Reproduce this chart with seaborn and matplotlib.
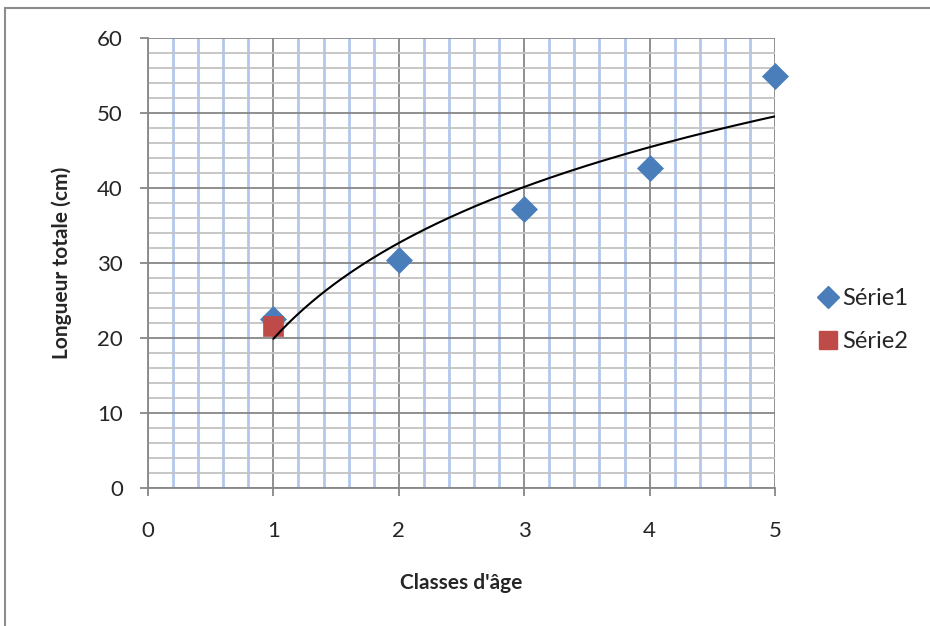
import numpy as np
import pandas as pd
import matplotlib
matplotlib.use("Agg")
import matplotlib.pyplot as plt
from matplotlib.ticker import MultipleLocator
from matplotlib.lines import Line2D
import seaborn as sns

# ── Data ─────────────────────────────────────────────────
age_classes = [1, 2, 3, 4, 5]
serie1_length = [22.5, 30.4, 37.2, 42.7, 54.9]
serie2_age = [1]
serie2_length = [21.6]

x_ticks = [0, 1, 2, 3, 4, 5]
y_ticks = [0, 10, 20, 30, 40, 50, 60]

# log trendline fitted on Série1 (Excel style)
a, b = np.polyfit(np.log(age_classes), serie1_length, 1)
trend_x = np.linspace(1, 5, 200)
trend = pd.DataFrame({"x": trend_x, "y": a * np.log(trend_x) + b})

s1 = pd.DataFrame({"age": age_classes, "len": serie1_length})
s2 = pd.DataFrame({"age": serie2_age, "len": serie2_length})

sns.set_theme(style="white")
plt.rcParams["font.family"] = ["Lato", "DejaVu Sans"]

fig = plt.figure(figsize=(9.3, 6.26), dpi=100)
ax = fig.add_axes([148 / 930, 1 - 488 / 626, (775 - 148) / 930, (488 - 38) / 626])

blue = "#4a7ebb"
red = "#be4b48"

sns.scatterplot(data=s1, x="age", y="len", marker="D", s=175, color=blue,
                edgecolor=blue, linewidth=0.5, ax=ax, zorder=3, clip_on=False)
sns.scatterplot(data=s2, x="age", y="len", marker="s", s=210, color=red,
                edgecolor=red, linewidth=0.5, ax=ax, zorder=4, clip_on=False)
sns.lineplot(data=trend, x="x", y="y", color="black", linewidth=1.5, ax=ax, zorder=5)

ax.set_xlim(0, 5)
ax.set_ylim(0, 60)
ax.set_xticks(x_ticks)
ax.set_yticks(y_ticks)
ax.xaxis.set_minor_locator(MultipleLocator(0.2))
ax.yaxis.set_minor_locator(MultipleLocator(2))

ax.grid(which="major", color="#878787", linewidth=1.3, zorder=1)
ax.grid(which="minor", axis="y", color="#c3c3c3", linewidth=1.3, zorder=0)
ax.grid(which="minor", axis="x", color="#b3c7ec", linewidth=2.0, zorder=0)
ax.set_axisbelow(True)

for side in ["top", "right"]:
    ax.spines[side].set_visible(False)
for side in ["left", "bottom"]:
    ax.spines[side].set_color("#878787")
    ax.spines[side].set_linewidth(1.3)

ax.tick_params(which="major", direction="out", length=6, width=1.3, color="#878787",
               labelsize=16, bottom=True, left=True)
ax.tick_params(axis="x", pad=18)
ax.tick_params(axis="y", pad=12)
ax.tick_params(which="minor", length=0)

ax.set_xlabel("Classes d'âge", fontsize=15, fontweight="bold", va="center")
ax.set_ylabel("Longueur totale (cm)", fontsize=15, fontweight="bold", va="center")
ax.xaxis.set_label_coords(0.5, -0.211)
ax.yaxis.set_label_coords(-0.137, 0.5)

handles = [
    Line2D([], [], marker="D", linestyle="none", color=blue, markersize=11, label="Série1"),
    Line2D([], [], marker="s", linestyle="none", color=red, markersize=13, label="Série2"),
]
fig.legend(handles=handles, loc="center left", bbox_to_anchor=(814 / 930, 1 - 320 / 626),
           frameon=False, fontsize=17, handletextpad=0.0, labelspacing=0.95,
           handlelength=1.2, borderaxespad=0, borderpad=0)

# chart frame (cut off on the right and bottom)
fig.add_artist(Line2D([5 / 930, 5 / 930], [0, 1 - 8 / 626], color="#8c8c8c", linewidth=1.5))
fig.add_artist(Line2D([5 / 930, 1], [1 - 8 / 626, 1 - 8 / 626], color="#8c8c8c", linewidth=1.5))

fig.savefig("out.png", dpi=100)
